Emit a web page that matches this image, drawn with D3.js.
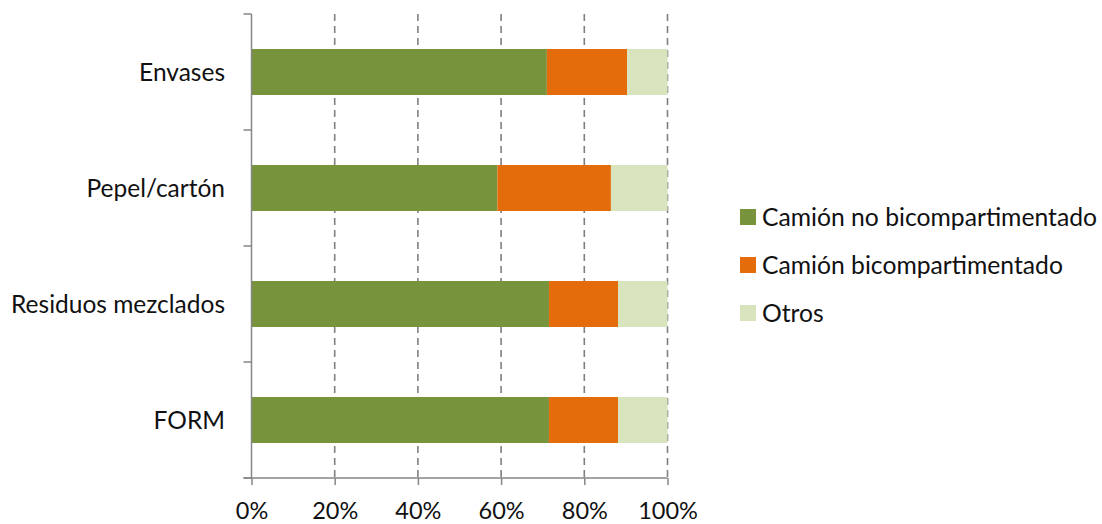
<!DOCTYPE html>
<html>
<head>
<meta charset="utf-8">
<script src="https://cdn.jsdelivr.net/npm/d3@7"></script>
<style>
  body { margin: 0; background: #fff; }
  text { font-family: Lato, 'Open Sans', sans-serif; fill: #111; }
</style>
</head>
<body>
<div id="chart"></div>
<script>
var categories = ['Envases', 'Pepel/cartón', 'Residuos mezclados', 'FORM'];
var seriesNames = ['Camión no bicompartimentado', 'Camión bicompartimentado', 'Otros'];
var noBicomp = [0.710, 0.591, 0.715, 0.715];
var bicomp   = [0.193, 0.273, 0.166, 0.166];
var otros    = [0.097, 0.136, 0.119, 0.119];
var xTicks = [0, 0.2, 0.4, 0.6, 0.8, 1];
var colors = ['#77933c', '#e46c0a', '#d7e4bd'];

var width = 1102, height = 524;

var svg = d3.select('#chart')
    .append('svg')
    .attr('width', width)
    .attr('height', height);

var rows = categories.map(function(c, i) {
    return { cat: c, s0: noBicomp[i], s1: bicomp[i], s2: otros[i] };
});
var stacked = d3.stack().keys(['s0', 's1', 's2'])(rows);

var x = d3.scaleLinear().domain([0, 1]).range([251.5, 667.5]);
var pad = 70 / 116;
var y = d3.scaleBand()
    .domain(categories)
    .range([14, 478])
    .paddingInner(pad)
    .paddingOuter(pad / 2);

// dashed gridlines
svg.append('g')
    .selectAll('line')
    .data(xTicks.slice(1))
    .join('line')
    .attr('x1', d => x(d)).attr('x2', d => x(d))
    .attr('y1', 14).attr('y2', 478)
    .attr('stroke', '#7f7f7f')
    .attr('stroke-width', 1.6)
    .attr('stroke-dasharray', '7,5');

// bars
svg.append('g')
    .selectAll('g')
    .data(stacked)
    .join('g')
    .attr('fill', (d, i) => colors[i])
    .selectAll('rect')
    .data(d => d)
    .join('rect')
    .attr('x', d => x(d[0]))
    .attr('width', d => x(d[1]) - x(d[0]))
    .attr('y', d => y(d.data.cat))
    .attr('height', y.bandwidth());

// left axis
var step = y.step();
var bounds = categories.map(c => y(c) + y.bandwidth() / 2 - step / 2);
bounds.push(bounds[bounds.length - 1] + step);
var yAxis = svg.append('g').attr('stroke', '#868686').attr('stroke-width', 1.5);
yAxis.append('line')
    .attr('x1', x(0)).attr('x2', x(0))
    .attr('y1', bounds[0]).attr('y2', bounds[bounds.length - 1]);
yAxis.selectAll('line.tk')
    .data(bounds)
    .join('line')
    .attr('class', 'tk')
    .attr('x1', x(0) - 8).attr('x2', x(0))
    .attr('y1', d => d).attr('y2', d => d);

svg.append('g')
    .selectAll('text')
    .data(categories)
    .join('text')
    .attr('x', 225)
    .attr('y', d => y(d) + y.bandwidth() / 2)
    .attr('dy', '0.35em')
    .attr('text-anchor', 'end')
    .style('font-size', '24.5px')
    .text(d => d);

// bottom axis
var xAxis = svg.append('g')
    .attr('transform', 'translate(0,' + bounds[bounds.length - 1] + ')')
    .call(d3.axisBottom(x).tickValues(xTicks).tickFormat(d3.format('.0%')).tickSize(7).tickSizeOuter(0).tickPadding(17));
xAxis.select('.domain').attr('d', 'M' + (x(0) - 8) + ',0H' + x(1));
xAxis.selectAll('path, line').attr('stroke', '#868686').attr('stroke-width', 1.5);
xAxis.selectAll('text')
    .style('font-size', '23.5px')
    .style('font-family', 'Lato, sans-serif')
    .attr('fill', '#111');

// legend
var legend = svg.append('g')
    .selectAll('g')
    .data(seriesNames)
    .join('g')
    .attr('transform', (d, i) => 'translate(740,' + (217 + i * 48) + ')');
legend.append('rect')
    .attr('y', -8).attr('width', 16).attr('height', 16)
    .attr('fill', (d, i) => colors[i]);
legend.append('text')
    .attr('x', 22)
    .attr('dy', '0.35em')
    .style('font-size', '24.7px')
    .text(d => d);
</script>
</body>
</html>
